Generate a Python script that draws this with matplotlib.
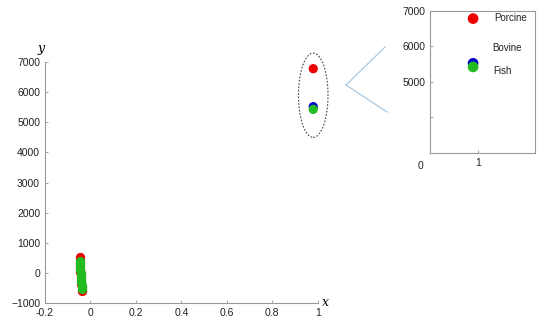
import matplotlib.pyplot as plt
from matplotlib.patches import Ellipse

plt.rcParams['font.family'] = ['Liberation Sans', 'DejaVu Sans']

# cluster of points near x = 0 (main plot)
red_x = [-0.048, -0.047, -0.046, -0.046, -0.045, -0.044, -0.043, -0.042, -0.041, -0.040, -0.039, -0.038, -0.038]
red_y = [520, 440, 340, 240, 140, 40, -60, -160, -260, -360, -460, -560, -610]
green_x = [-0.047, -0.046, -0.045, -0.045, -0.044, -0.043, -0.042, -0.041, -0.041, -0.040, -0.039, -0.039, -0.038]
green_y = [400, 330, 250, 170, 90, 10, -70, -150, -230, -310, -390, -460, -520]

# the three gelatin sources near x = 1
sources = ['Porcine', 'Bovine', 'Fish']
src_x = [0.98, 0.98, 0.98]
src_y = [6780, 5520, 5430]
src_colors = ['#ee0000', '#0000cc', '#22bb22']

# inset (zoomed) view
inset_x = [0.9, 0.9, 0.9]
inset_y = [6780, 5520, 5420]
label_pos = [(1.35, 6800), (1.3, 5950), (1.32, 5300)]

fig = plt.figure(figsize=(5.5, 3.26), dpi=100)

ax = fig.add_axes([0.0818, 0.0706, 0.496, 0.739])
ax.scatter(red_x, red_y, s=32, color='#ee0000', zorder=2)
ax.scatter(green_x, green_y, s=32, color='#22bb22', zorder=3)
ax.scatter(src_x, src_y, s=32, c=src_colors, zorder=3)
ax.set_xlim(-0.2, 1)
ax.set_ylim(-1000, 7000)
ax.set_xticks([-0.2, 0, 0.2, 0.4, 0.6, 0.8, 1])
ax.set_xticklabels(['-0.2', '0', '0.2', '0.4', '0.6', '0.8', '1'])
ax.set_yticks(range(-1000, 7001, 1000))
for s in ['top', 'right']:
    ax.spines[s].set_visible(False)
for s in ['left', 'bottom']:
    ax.spines[s].set_color('#999999')
    ax.spines[s].set_linewidth(0.8)
ax.tick_params(direction='in', length=2.5, width=0.6, color='#999999', labelsize=7.5, labelcolor='#222222')
ax.text(1.02, -1000, 'x', fontsize=9, style='italic', family='DejaVu Serif', va='center', ha='left')
ax.text(-0.2, 7250, 'y', fontsize=9, style='italic', family='DejaVu Serif', va='bottom', ha='right')

ell = Ellipse((0.98, 5900), 0.13, 2800, fill=False, ls=(0, (1.5, 1.5)), lw=0.8, color='#444444', clip_on=False)
ax.add_patch(ell)

# connector lines to inset
fig.add_artist(plt.Line2D([346 / 550, 385 / 550], [1 - 85 / 326, 1 - 47 / 326], color='#a9c8e0', lw=0.9))
fig.add_artist(plt.Line2D([346 / 550, 387 / 550], [1 - 85 / 326, 1 - 112 / 326], color='#a9c8e0', lw=0.9))

ins = fig.add_axes([0.782, 0.531, 0.191, 0.436])
ins.scatter(inset_x, inset_y, s=45, c=src_colors, zorder=3)
for name, (lx, ly) in zip(sources, label_pos):
    ins.text(lx, ly, name, fontsize=7, va='center', ha='left', color='#222222')
ins.set_xlim(0, 2.2)
ins.set_ylim(3000, 7000)
ins.set_xticks([1])
ins.set_xticklabels(['1'])
ins.set_yticks([4000, 5000, 6000, 7000])
ins.set_yticklabels(['', '5000', '6000', '7000'])
for s in ins.spines.values():
    s.set_color('#999999')
    s.set_linewidth(0.8)
ins.tick_params(direction='in', length=2.5, width=0.6, color='#999999', labelsize=7.5, labelcolor='#222222')
ins.text(-0.15, 2780, '0', fontsize=7.5, ha='right', va='top', color='#222222')

fig.savefig('out.png', dpi=100)
